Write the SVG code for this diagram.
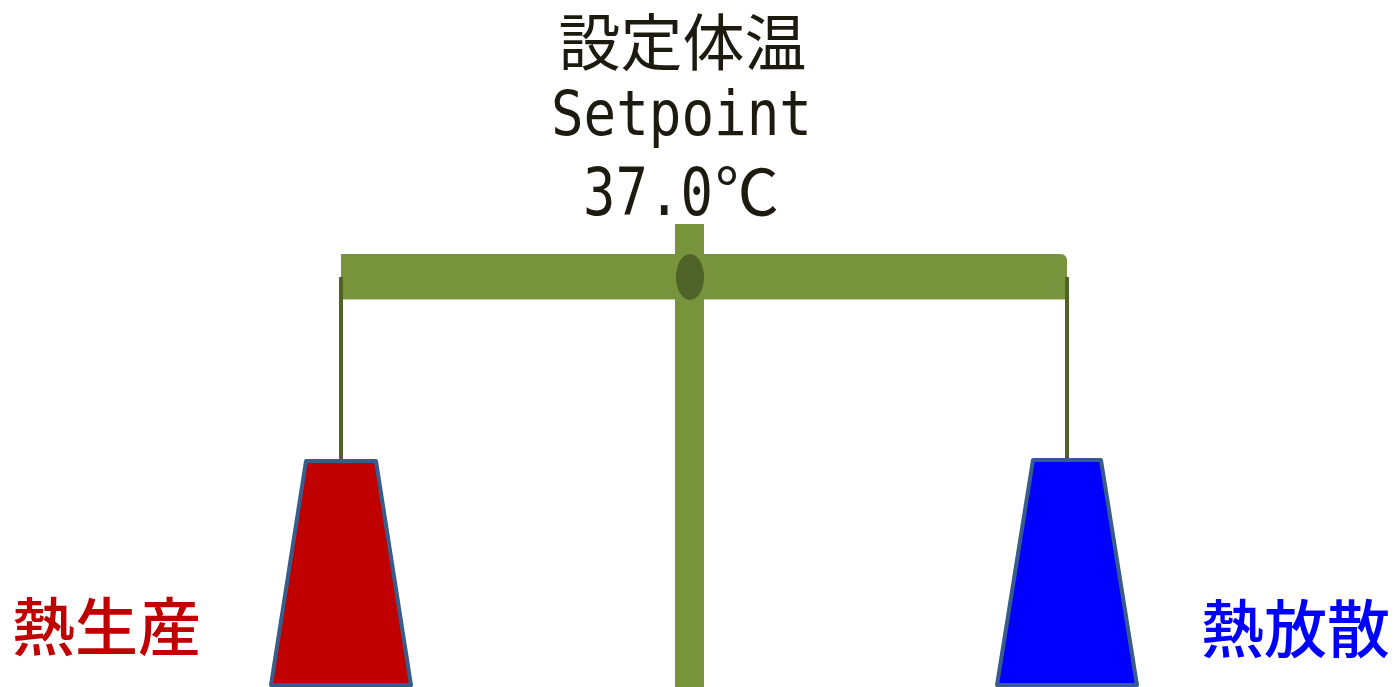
<svg xmlns="http://www.w3.org/2000/svg" width="1399" height="687" viewBox="0 0 1399 687">
<style>
.cjk{font-family:"Noto Sans CJK JP","Noto Sans CJK SC",sans-serif;}
.mono{font-family:"DejaVu Sans Mono","Liberation Mono",monospace;}
.title{fill:#1d1b10;}
.green{fill:#77933c;}
.dark{fill:#4f6228;}
.pan{stroke:#385d8a;stroke-width:4;stroke-linejoin:round;}
.str{stroke:#4f6228;stroke-width:4;}
.lbl{font-weight:500;}
</style>
<rect width="1399" height="687" fill="#ffffff"/>
<g id="title">
<text class="cjk title" x="682.5" y="66" font-size="62" text-anchor="middle">設定体温</text>
<text class="mono title" x="551" y="135" font-size="62" textLength="261" lengthAdjust="spacingAndGlyphs">Setpoint</text>
<text class="title" x="583" y="215"><tspan class="mono" font-size="66" textLength="130" lengthAdjust="spacingAndGlyphs">37.0</tspan><tspan class="cjk" x="715" font-size="64">℃</tspan></text>
</g>
<g id="scale">
<path class="green" d="M341 254 H1060 Q1067 254 1067 261 V299 H341 Z"/>
<line x1="341" y1="299.5" x2="1067" y2="299.5" stroke="#c3d69b" stroke-width="1"/>
<rect class="green" x="675" y="224" width="29" height="463"/>
<ellipse class="dark" cx="690" cy="277" rx="14" ry="23"/>
</g>
<g id="connectors">
<line class="str" x1="341" y1="277" x2="341" y2="461"/>
<line class="str" x1="1067" y1="277" x2="1067" y2="460"/>
</g>
<g id="heat-production">
<polygon class="pan" fill="#c00000" points="306,461 376,461 411,685 271,685"/>
<text class="cjk lbl" x="12" y="650" font-size="63" fill="#c00000">熱生産</text>
</g>
<g id="heat-dissipation">
<polygon class="pan" fill="#0000ff" points="1033,460 1101,460 1137,685 997,685"/>
<text class="cjk lbl" x="1201" y="652" font-size="63" fill="#0000ff">熱放散</text>
</g>
</svg>
